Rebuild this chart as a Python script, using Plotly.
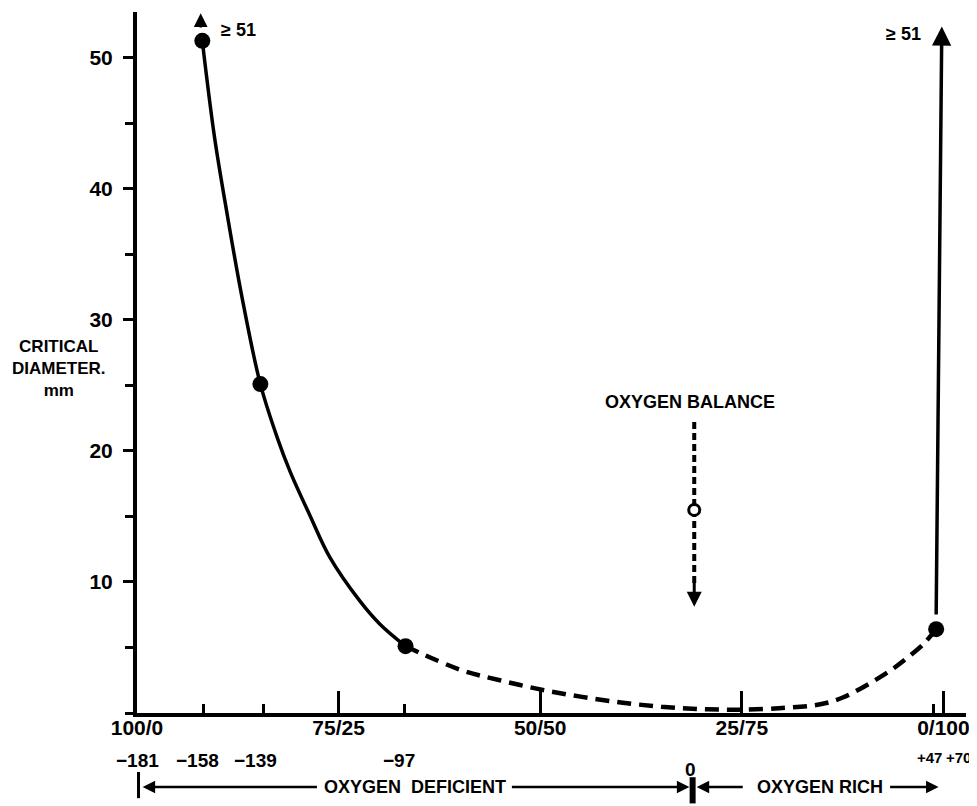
import plotly.graph_objects as go

# ---------------- data ----------------
# x axis = % of second component in the binary mixture (100/0 ... 0/100)
comp_tick_pos = [0, 25, 50, 75, 100]
comp_tick_text = ["100/0", "75/25", "50/50", "25/75", "0/100"]

ob_tick_pos = [0, 8.3, 15.7, 33.2, 68.9, 98.8, 100]
ob_tick_text = ["\u2212181", "\u2212158", "\u2212139", "\u221297", "0", "+47", "+70"]
ob_tick_marked = [False, True, True, True, False, True, False]

y_tick_vals = [10, 20, 30, 40, 50]

# measured critical diameters (mm)
pts_x = [8.1, 15.3, 33.3, 99.1]
pts_y = [51.3, 25.1, 5.1, 6.4]

# solid (measured) part of the curve
solid_x = [8.1, 9.6, 11.2, 13.0, 15.3, 17.4, 19.0, 21.5, 23.9, 27.7, 30.1, 33.3]
solid_y = [51.3, 44.0, 38.0, 31.8, 25.1, 21.0, 18.4, 15.0, 11.9, 8.5, 6.8, 5.1]

# dashed (estimated) part of the curve
dash_x = [33.3, 40.1, 45.0, 50.0, 55.0, 60.0, 65.0, 70.0, 75.0, 80.0, 83.5, 85.6,
          87.6, 89.7, 91.8, 93.8, 95.5, 97.5, 99.1]
dash_y = [5.1, 3.3, 2.5, 1.8, 1.25, 0.8, 0.48, 0.3, 0.25, 0.38, 0.55, 0.78,
          1.2, 1.85, 2.6, 3.4, 4.2, 5.25, 6.4]

# oxygen balance marker
bal_x = 69.1
bal_line_y = [22.2, 9.8]
bal_arrow_tip = 8.1
bal_point_y = 15.5

# ">= 51" arrows
right_arrow_top = 52.4
left_arrow_top = 53.4
ge_label = "\u2265 51"

# ---------------- styling ----------------
FONT = "Liberation Sans, Arial, sans-serif"
BLACK = "black"
Y_MAX = 53.5
X_MAX = 102.8

fig = go.Figure()

fig.add_trace(go.Scatter(
    x=solid_x, y=solid_y, mode="lines",
    line=dict(color=BLACK, width=3.5, shape="spline", smoothing=1.0),
    hoverinfo="skip", showlegend=False))

fig.add_trace(go.Scatter(
    x=dash_x, y=dash_y, mode="lines",
    line=dict(color=BLACK, width=4.5, shape="spline", smoothing=1.0, dash="14px,8px"),
    hoverinfo="skip", showlegend=False))

fig.add_trace(go.Scatter(
    x=[bal_x, bal_x], y=bal_line_y, mode="lines",
    line=dict(color=BLACK, width=4, dash="7px,4px"),
    hoverinfo="skip", showlegend=False))

fig.add_trace(go.Scatter(
    x=[bal_x], y=[bal_point_y], mode="markers",
    marker=dict(symbol="circle", size=11, color="white", line=dict(color=BLACK, width=3)),
    hoverinfo="skip", showlegend=False))

fig.add_trace(go.Scatter(
    x=pts_x, y=pts_y, mode="markers", xaxis="x2",
    marker=dict(symbol="circle", size=16, color=BLACK),
    hoverinfo="skip", showlegend=False))

bold = dict(family=FONT, color=BLACK, weight="bold")

# the page body adds an 8 px offset, so the figure is 8 px smaller and margins compensate
fig.update_layout(
    width=969, height=798,
    margin=dict(l=129, r=11, t=4, b=93, autoexpand=False),
    paper_bgcolor="white", plot_bgcolor="white",
    xaxis=dict(
        range=[0, X_MAX], showgrid=False, zeroline=False, automargin=False,
        showline=True, linewidth=4, linecolor=BLACK,
        ticks="inside", ticklen=22, tickwidth=3, tickcolor=BLACK,
        tickvals=comp_tick_pos, ticktext=comp_tick_text,
        tickfont=dict(size=21, **bold), ticklabelstandoff=-7,
    ),
    xaxis2=dict(
        range=[0, X_MAX], overlaying="x", anchor="y", side="bottom", automargin=False,
        showgrid=False, zeroline=False, showline=False,
        ticks="inside", ticklen=9, tickwidth=3, tickcolor=BLACK,
        tickvals=[p for p, m in zip(ob_tick_pos, ob_tick_marked) if m],
        showticklabels=False,
    ),
    yaxis=dict(
        range=[0, Y_MAX], showgrid=False, zeroline=False, automargin=False,
        showline=True, linewidth=4, linecolor=BLACK,
        ticks="outside", ticklen=10, tickwidth=3, tickcolor=BLACK,
        tickvals=y_tick_vals,
        tickfont=dict(size=21, **bold), ticklabelstandoff=6,
        minor=dict(ticks="outside", tick0=0, dtick=5, ticklen=8, tickwidth=3, tickcolor=BLACK),
    ),
)

ann = []

# y-axis title
ann.append(dict(text="CRITICAL<br>DIAMETER.<br>mm", xref="paper", yref="y",
                x=-0.094, xanchor="center", y=26.3, yanchor="middle", showarrow=False,
                font=dict(size=17, **bold), align="center"))

# oxygen-balance labels (second row under the axis)
ob_xshift = [0, -6, -8, -6, -2, -4, 15]
ob_yshift = [-35, -35, -35, -35, -44, -34, -34]
ob_size = [19, 19, 19, 19, 19, 15, 15]
for p, t, dx, dy, fs in zip(ob_tick_pos, ob_tick_text, ob_xshift, ob_yshift, ob_size):
    ann.append(dict(text=t, xref="x", yref="paper", x=p, y=0, yanchor="top",
                    xshift=dx, yshift=dy, showarrow=False, font=dict(size=fs, **bold)))

# >= 51 labels and arrows
ann.append(dict(text=ge_label, xref="x", yref="y", x=12.6, y=52.1, showarrow=False,
                font=dict(size=18, **bold)))
ann.append(dict(text=ge_label, xref="x", yref="y", x=95.0, y=51.8, showarrow=False,
                font=dict(size=18, **bold)))
ann.append(dict(text="", x=pts_x[-1] + 0.7, y=right_arrow_top, xref="x", yref="y",
                ax=pts_x[-1], ay=pts_y[-1] + 1.0, axref="x", ayref="y",
                showarrow=True, arrowhead=2, arrowsize=1.1, arrowwidth=3.5, arrowcolor=BLACK))
ann.append(dict(text="", x=pts_x[0] - 0.2, y=left_arrow_top, xref="x", yref="y",
                ax=pts_x[0] - 0.2, ay=pts_y[0] + 0.9, axref="x", ayref="y",
                showarrow=True, arrowhead=2, arrowsize=1.1, arrowwidth=2.5, arrowcolor=BLACK))

# oxygen balance label and arrow
ann.append(dict(text="OXYGEN BALANCE", xref="x", yref="y", x=68.6, y=23.7,
                showarrow=False, font=dict(size=18, **bold)))
ann.append(dict(text="", x=bal_x, y=bal_arrow_tip, xref="x", yref="y",
                ax=bal_x, ay=bal_line_y[1] + 0.3, axref="x", ayref="y",
                showarrow=True, arrowhead=2, arrowsize=1.0, arrowwidth=3, arrowcolor=BLACK))

# bottom row: OXYGEN DEFICIENT / OXYGEN RICH
row_y = -5.65 / Y_MAX
ann.append(dict(text="OXYGEN\u00a0\u00a0DEFICIENT", xref="x", yref="paper", x=34.5, y=row_y,
                yanchor="middle", showarrow=False, font=dict(size=18, **bold)))
ann.append(dict(text="OXYGEN RICH", xref="x", yref="paper", x=84.7, y=row_y,
                yanchor="middle", showarrow=False, font=dict(size=18, **bold)))
for head, tail in [(0.7, 22.5), (68.5, 46.3), (69.4, 75.3), (99.4, 93.2)]:
    ann.append(dict(text="", x=head, y=row_y, xref="x", yref="paper",
                    ax=tail, ay=0, axref="x", ayref="pixel",
                    showarrow=True, arrowhead=2, arrowsize=1.0, arrowwidth=2.5,
                    arrowcolor=BLACK))

fig.update_layout(annotations=ann)

# end bars of the bottom row
for bx, y0, y1 in [(0.0, -4.5, -6.5), (68.9, -4.9, -6.9)]:
    fig.add_shape(type="line", xref="x", yref="paper", x0=bx, x1=bx,
                  y0=y0 / Y_MAX, y1=y1 / Y_MAX, line=dict(color=BLACK, width=6))

fig.write_html("out.html")
